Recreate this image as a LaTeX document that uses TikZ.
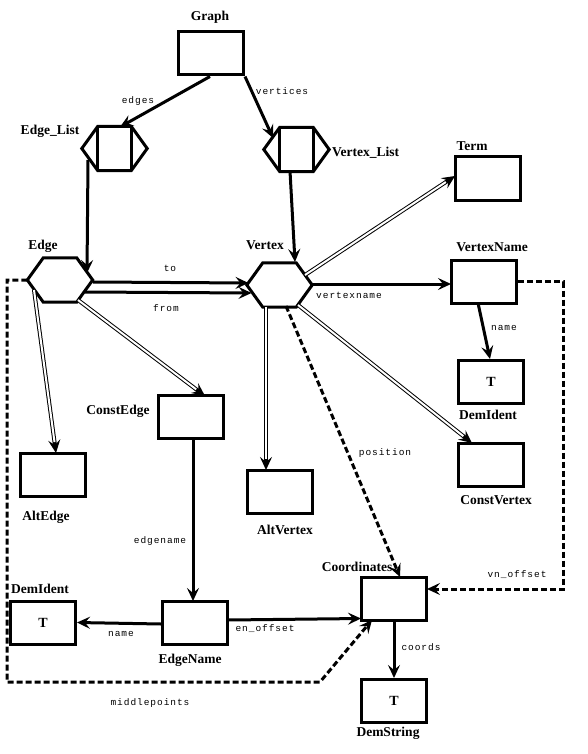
\documentclass[tikz,border=0pt]{standalone}
\usepackage{fontspec}
\setmainfont{Liberation Serif}
\newfontfamily\monof[LetterSpace=10]{Liberation Mono}
\usetikzlibrary{arrows.meta,calc}
\begin{document}
\begin{tikzpicture}[x=1pt,y=-1pt,
  box/.style={draw, line width=3pt, minimum width=65pt, minimum height=43pt, inner sep=0pt, font=\fontsize{14}{14}\selectfont\bfseries},
  hexnode/.style={minimum width=65pt, minimum height=44pt, inner sep=0pt},
  hexline/.style={line width=3pt, line join=miter},
  lab/.style={font=\fontsize{13.5}{14}\selectfont\bfseries, inner sep=0pt},
  elab/.style={font=\monof\fontsize{9.5}{10}\selectfont, inner sep=0pt},
  tip/.style={-{Stealth[length=13pt,width=12pt,inset=5pt]}},
  arr/.style={line width=3pt, tip},
  dbl/.style={line width=4pt, tip, postaction={draw=white, line width=2pt, shorten >=11pt, -}},
  dsh/.style={line width=3pt, dash pattern=on 6pt off 3pt, tip},
]
\useasboundingbox (0,0) rectangle (587,754);

% ---- nodes ----
\node[box] (graph) at (211,53.5) {};
\node[hexnode] (el) at (114.5,148.5) {};
\node[hexnode] (vl) at (296.5,149.5) {};
\node[box] (term) at (487.5,178.5) {};
\node[hexnode] (edge) at (60,280) {};
\node[hexnode] (vertex) at (279.5,285) {};
\node[box] (vname) at (484,281.5) {};
\node[box] (demid1) at (491,381.5) {T};
\node[box] (constedge) at (190.5,417) {};
\node[box] (constvertex) at (491,465) {};
\node[box] (altedge) at (53,474.5) {};
\node[box] (altvertex) at (279.5,491.5) {};
\node[box] (edgename) at (195,622.5) {};
\node[box] (demid2) at (43,622.5) {T};
\node[box] (coords) at (394,598.5) {};
\node[box] (demstring) at (394,701) {T};

% hexagons
\foreach \h in {el,vl,edge,vertex}{
  \draw[hexline] (\h.west) -- ([xshift=16pt]\h.north west) -- ([xshift=-16pt]\h.north east) -- (\h.east) -- ([xshift=-16pt]\h.south east) -- ([xshift=16pt]\h.south west) -- cycle;
}
\foreach \h in {el,vl}{
  \draw[hexline] ([xshift=16pt]\h.north west) -- ([xshift=16pt]\h.south west);
  \draw[hexline] ([xshift=-16pt]\h.north east) -- ([xshift=-16pt]\h.south east);
}

% ---- node labels ----
\node[lab] (lgraph) at (210,17) {Graph};
\node[lab] (lel) at (50,131) {Edge\_List};
\node[lab,anchor=west] (lvl) at (332,153) {Vertex\_List};
\node[lab] (lterm) at (472,146) {Term};
\node[lab] (ledge) at (43,246) {Edge};
\node[lab] (lvertex) at (265,245) {Vertex};
\node[lab] (lvname) at (492,247) {VertexName};
\node[lab] (lconstedge) at (118,411) {ConstEdge};
\node[lab] (ldemid1) at (488,415) {DemIdent};
\node[lab] (laltedge) at (46,517) {AltEdge};
\node[lab] (laltvertex) at (285,530) {AltVertex};
\node[lab] (lconstvertex) at (496,500) {ConstVertex};
\node[lab] (ldemid2) at (40,589) {DemIdent};
\node[lab] (lcoords) at (357,567) {Coordinates};
\node[lab] (ledgename) at (190,660) {EdgeName};
\node[lab] (ldemstring) at (388,733) {DemString};

% ---- connectors ----
\draw[arr] ([xshift=-1pt]graph.south) -- ([shift={(5.5,-21.5)}]el.center);
\draw[arr] (graph.south east) -- ([shift={(-23.5,-11.5)}]vl.center);
\draw[arr] ([shift={(-26.5,11.5)}]el.center) -- ([shift={(27,-7)}]edge.center);
\draw[arr] ([shift={(-6.5,21.5)}]vl.center) -- ([shift={(15.5,-23)}]vertex.center);
\draw[arr] ([shift={(33,2)}]edge.center) -- ([shift={(-31,-2)}]vertex.center);
\draw[arr] ([shift={(25,12)}]edge.center) -- ([shift={(-28,8)}]vertex.center);
\draw[dbl] ([shift={(25.5,-10)}]vertex.center) -- ([shift={(-32.5,-2.5)}]term.center);
\draw[arr] ([shift={(32.5,-1)}]vertex.center) -- ([shift={(-33,2.5)}]vname.center);
\draw[arr] ([shift={(-6,21.5)}]vname.center) -- ([shift={(-1,-22.5)}]demid1.center);
\draw[dbl] ([shift={(18.5,20)}]vertex.center) -- ([shift={(-19,-22)}]constvertex.center);
\draw[dbl] ([shift={(-13.5,22)}]vertex.center) -- ([shift={(-13.5,-21.5)}]altvertex.center);
\draw[dsh] ([shift={(6.5,21)}]vertex.center) -- ([shift={(6,-21.5)}]coords.center);
\draw[dbl] ([shift={(-26,10)}]edge.center) -- ([shift={(3,-21.5)}]altedge.center);
\draw[dbl] ([shift={(18,20)}]edge.center) -- ([shift={(14.5,-21)}]constedge.center);
\draw[arr] ([shift={(2.5,21)}]constedge.center) -- ([shift={(-2,-21.5)}]edgename.center);
\draw[arr] ([yshift=-1.5pt]edgename.west) -- (demid2.east);
\draw[arr] ([shift={(33,-2.5)}]edgename.center) -- ([shift={(-33,20)}]coords.center);

\coordinate (v1) at (563,281.5);
\coordinate (v2) at (563,589);
\draw[dsh] (vname.east) -- (v1) -- (v2) -- ([shift={(33,-9.5)}]coords.center);

\coordinate (m1) at (7,280);
\coordinate (m2) at (7,682);
\coordinate (m3) at (320,682);
\draw[dsh] (edge.west) -- (m1) -- (m2) -- (m3) -- ([shift={(-22,21.5)}]coords.center);

\draw[arr] (coords.south) -- (demstring.north);

% ---- connector labels ----
\node[elab] (tedges) at (138,101) {edges};
\node[elab] (tvertices) at (282,91) {vertices};
\node[elab] (tto) at (170,268) {to};
\node[elab] (tfrom) at (166,308) {from};
\node[elab] (tvname) at (349,295) {vertexname};
\node[elab] (tname1) at (504,328) {name};
\node[elab] (tposition) at (385,453) {position};
\node[elab] (tedgename) at (160,541) {edgename};
\node[elab] (tname2) at (121,634) {name};
\node[elab] (tenoff) at (265,629) {en\_offset};
\node[elab] (tvnoff) at (517,575) {vn\_offset};
\node[elab] (tcoords) at (421,647) {coords};
\node[elab] (tmiddle) at (150,703) {middlepoints};
\end{tikzpicture}
\end{document}
